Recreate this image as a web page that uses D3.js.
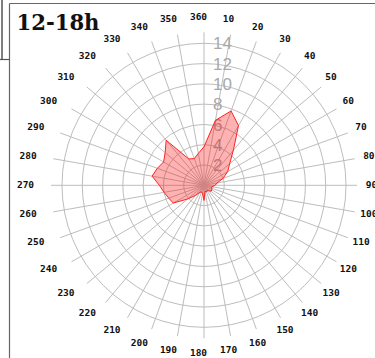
<!DOCTYPE html>
<html>
<head>
<meta charset="utf-8">
<script src="https://cdn.jsdelivr.net/npm/d3@7/dist/d3.min.js"></script>
<style>
  html, body { margin: 0; padding: 0; background: #fff; }
  svg { display: block; }
</style>
</head>
<body>
<svg id="chart" width="375" height="358"></svg>
<script>
const title = "12-18h";
const directions = [10,20,30,40,50,60,70,80,90,100,110,120,130,140,150,160,170,180,
                    190,200,210,220,230,240,250,260,270,280,290,300,310,320,330,340,350,360];
const values = [6.5,7.8,6.8,4.5,3.3,2.7,2.0,1.3,1.1,0.8,0.8,0.9,0.9,0.7,0.6,0.7,0.6,1.5,
                0.8,0.7,0.8,1.3,2.1,3.5,3.7,4.0,4.4,5.2,4.9,4.6,5.0,5.8,3.0,2.8,3.2,3.8];
const radialTicks = [2,4,6,8,10,12,14];

const svg = d3.select("#chart");
const cx = 204, cy = 185.3;
const r = d3.scaleLinear().domain([0, 14]).range([0, 142]);
const ang = d3.scaleLinear().domain([0, 360]).range([0, 2 * Math.PI]);

// frame lines
svg.append("line").attr("x1", 9.5).attr("y1", 3.5).attr("x2", 375).attr("y2", 3.5)
  .attr("stroke", "#666").attr("stroke-width", 1.2);
svg.append("line").attr("x1", 9.5).attr("y1", 3.5).attr("x2", 9.5).attr("y2", 358)
  .attr("stroke", "#666").attr("stroke-width", 1.2);
svg.append("line").attr("x1", 2).attr("y1", 0).attr("x2", 2).attr("y2", 59.5)
  .attr("stroke", "#555").attr("stroke-width", 1.5);
svg.append("line").attr("x1", 0).attr("y1", 59.5).attr("x2", 10).attr("y2", 59.5)
  .attr("stroke", "#555").attr("stroke-width", 1.2);

// title
svg.append("text").attr("x", 16.5).attr("y", 29.5)
  .attr("font-family", "DejaVu Serif").attr("font-weight", "bold")
  .attr("font-size", 22.5).attr("fill", "#111")
  .attr("textLength", 83).attr("lengthAdjust", "spacingAndGlyphs")
  .text(title);

const g = svg.append("g").attr("transform", `translate(${cx},${cy})`);

// grid circles
g.selectAll("circle.grid").data(radialTicks).enter().append("circle")
  .attr("class", "grid").attr("r", d => r(d))
  .attr("fill", "none").attr("stroke", "#bdbdbd").attr("stroke-width", 1);

// spokes
const spokeR = 153;
g.selectAll("line.spoke").data(directions).enter().append("line")
  .attr("x1", 0).attr("y1", 0)
  .attr("x2", d => spokeR * Math.sin(ang(d)))
  .attr("y2", d => -spokeR * Math.cos(ang(d)))
  .attr("stroke", "#bdbdbd").attr("stroke-width", 1);

// radial tick labels
g.selectAll("text.rtick").data(radialTicks).enter().append("text")
  .attr("x", 9).attr("y", d => -r(d))
  .attr("dy", "0.36em")
  .attr("font-family", "Liberation Sans, Arial, sans-serif")
  .attr("font-size", 17).attr("fill", "#a8a8a8")
  .text(d => d);

// data polygon
const radial = d3.lineRadial()
  .angle((d, i) => ang(directions[i]))
  .radius(d => r(d))
  .curve(d3.curveLinearClosed);
g.append("path").attr("d", radial(values))
  .attr("fill", "rgba(255,0,0,0.3)")
  .attr("stroke", "#f22").attr("stroke-width", 1);

// direction labels
const lx = 173, ly = 168;
g.selectAll("text.dir").data(directions).enter().append("text")
  .attr("x", d => -5.5 + lx * Math.sin(ang(d)))
  .attr("y", d => -1 - ly * Math.cos(ang(d)))
  .attr("dy", "0.36em")
  .attr("text-anchor", "middle")
  .attr("font-family", "DejaVu Sans Mono").attr("font-weight", "bold")
  .attr("font-size", 9.5).attr("fill", "#111")
  .text(d => d);
</script>
</body>
</html>
